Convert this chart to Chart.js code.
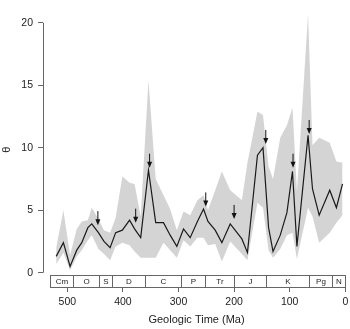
<!DOCTYPE html>
<html>
<head>
<meta charset="utf-8">
<script src="https://cdn.jsdelivr.net/npm/chart.js@4"></script>
<style>
  html, body { margin: 0; padding: 0; background: #fff; }
  #wrap { width: 350px; height: 329px; }
</style>
</head>
<body>
<div id="wrap"><canvas id="theta"></canvas></div>
<script>
// ages (Ma) of each bin, with theta and its confidence band
const ages = [520, 507, 495, 483, 474, 463, 456, 444, 434, 423, 413, 401, 388, 379, 368, 354, 341, 327, 315, 303, 291, 279, 266, 255, 247, 234, 222, 207, 186, 176, 158, 148, 138, 130, 117, 105, 95, 87, 67, 59, 47, 28, 16, 5];
const theta = [1.3, 2.4, 0.5, 1.8, 2.4, 3.6, 3.9, 3.2, 2.5, 2.0, 3.2, 3.4, 4.2, 3.5, 2.8, 8.2, 4.0, 4.0, 3.0, 2.1, 3.5, 2.8, 4.1, 5.1, 4.1, 3.4, 2.4, 3.9, 2.7, 1.6, 9.4, 10.0, 3.6, 1.7, 3.0, 4.8, 8.1, 2.1, 11.0, 6.7, 4.6, 6.6, 5.2, 7.1];
const upper = [2.0, 5.0, 1.4, 3.5, 4.1, 4.2, 5.2, 4.3, 3.4, 3.2, 4.4, 7.7, 7.2, 7.1, 4.5, 15.4, 7.5, 6.2, 5.1, 3.4, 4.9, 4.6, 5.8, 6.2, 5.0, 6.6, 8.1, 6.6, 5.8, 8.8, 12.9, 12.6, 8.5, 7.5, 10.8, 11.8, 13.2, 6.5, 20.7, 10.2, 10.8, 10.4, 8.9, 8.8];
const lower = [0.7, 1.6, 0.2, 1.3, 1.8, 2.6, 3.0, 1.9, 1.5, 1.0, 2.1, 2.4, 2.2, 1.7, 1.2, 1.2, 1.2, 2.4, 1.8, 1.2, 2.6, 2.1, 2.8, 2.8, 2.2, 2.3, 0.9, 2.5, 1.5, 1.0, 5.6, 5.2, 1.8, 1.2, 1.9, 3.0, 3.2, 1.1, 5.2, 4.5, 2.4, 3.2, 4.0, 4.6];

// arrows: age and theta of the tip
const arrowAges = [445, 377, 352, 251, 200, 143, 94, 65];
const arrowTheta = [3.8, 4.0, 8.4, 5.3, 4.3, 10.3, 8.4, 11.1];

// geologic periods
const periodNames = ["Cm", "O", "S", "D", "C", "P", "Tr", "J", "K", "Pg", "N"];
const periodBounds = [532, 489, 443, 420, 360, 296, 252, 201, 143, 66, 24, 0];

const xTicks = [0, 100, 200, 300, 400, 500];
const yTicks = [0, 5, 10, 15, 20];

const pts = (ys) => ages.map((a, i) => ({ x: a, y: ys[i] }));

const FONT = "'Liberation Sans', Arial, sans-serif";

const periodBar = {
  id: "periodBar",
  afterDatasetsDraw(chart) {
    const { ctx, chartArea, scales } = chart;
    const bottom = chartArea.bottom;
    const top = bottom - 13;
    ctx.save();
    ctx.strokeStyle = "#666";
    ctx.lineWidth = 1;
    ctx.font = "8px " + FONT;
    ctx.textAlign = "center";
    ctx.textBaseline = "middle";
    for (let i = 0; i < periodNames.length; i++) {
      const x0 = Math.round(scales.x.getPixelForValue(periodBounds[i])) + 0.5;
      const x1 = Math.round(scales.x.getPixelForValue(periodBounds[i + 1])) + 0.5;
      ctx.fillStyle = "#fff";
      ctx.fillRect(x0, top, x1 - x0, bottom - top);
      ctx.strokeRect(x0, top + 0.5, x1 - x0, bottom - top - 1);
      ctx.fillStyle = "#222";
      ctx.fillText(periodNames[i], (x0 + x1) / 2, (top + bottom) / 2 + 0.5);
    }
    ctx.restore();
  },
};

const arrows = {
  id: "arrows",
  afterDatasetsDraw(chart) {
    const { ctx, scales } = chart;
    ctx.save();
    ctx.strokeStyle = "#111";
    ctx.fillStyle = "#111";
    ctx.lineWidth = 1;
    arrowAges.forEach((a, i) => {
      const x = scales.x.getPixelForValue(a);
      const y = scales.y.getPixelForValue(arrowTheta[i]);
      ctx.beginPath();
      ctx.moveTo(x, y - 14);
      ctx.lineTo(x, y - 5);
      ctx.stroke();
      ctx.beginPath();
      ctx.moveTo(x - 2.5, y - 6);
      ctx.lineTo(x + 2.5, y - 6);
      ctx.lineTo(x, y);
      ctx.closePath();
      ctx.fill();
    });
    ctx.restore();
  },
};

const yAxisLine = {
  id: "yAxisLine",
  afterDraw(chart) {
    const { ctx, chartArea, scales } = chart;
    const x = chartArea.left + 0.5;
    ctx.save();
    ctx.strokeStyle = "#666";
    ctx.lineWidth = 1;
    ctx.beginPath();
    ctx.moveTo(x, scales.y.getPixelForValue(yTicks[0]));
    ctx.lineTo(x, scales.y.getPixelForValue(yTicks[yTicks.length - 1]));
    ctx.stroke();
    ctx.restore();
  },
};

new Chart(document.getElementById("theta"), {
  type: "line",
  data: {
    datasets: [
      {
        // theta line, drawn on top
        data: pts(theta),
        borderColor: "#1a1a1a",
        borderWidth: 1.2,
        fill: false,
        pointRadius: 0,
        order: 0,
      },
      {
        data: pts(upper),
        borderWidth: 0,
        backgroundColor: "#d4d4d4",
        fill: "+1",
        pointRadius: 0,
        order: 1,
      },
      {
        data: pts(lower),
        borderWidth: 0,
        backgroundColor: "#d4d4d4",
        fill: false,
        pointRadius: 0,
        order: 2,
      },
    ],
  },
  options: {
    responsive: true,
    maintainAspectRatio: false,
    animation: false,
    layout: { padding: 0 },
    plugins: { legend: { display: false }, tooltip: { enabled: false } },
    elements: { line: { tension: 0 } },
    scales: {
      x: {
        type: "linear",
        reverse: true,
        min: -8.45,
        max: 543.7,
        afterBuildTicks: (s) => { s.ticks = xTicks.map((v) => ({ value: v })); },
        afterFit: (s) => { s.height = 41; },
        border: { display: false },
        grid: { drawOnChartArea: false, drawTicks: true, tickLength: 4, color: "#666" },
        ticks: { color: "#222", font: { size: 10.5, family: FONT }, padding: 4, maxRotation: 0 },
        title: {
          display: true,
          text: "Geologic Time (Ma)",
          color: "#222",
          font: { size: 11, family: FONT },
          padding: { top: 0, bottom: 2 },
        },
      },
      y: {
        type: "linear",
        min: -1.23,
        max: 20.92,
        afterBuildTicks: (s) => { s.ticks = yTicks.map((v) => ({ value: v })); },
        afterFit: (s) => { s.width = 43; },
        border: { display: false },
        grid: { drawOnChartArea: false, drawTicks: true, tickLength: 5, color: "#666" },
        ticks: { color: "#222", font: { size: 10.5, family: FONT }, padding: 5 },
        title: {
          display: true,
          text: "θ",
          color: "#222",
          font: { size: 11, family: FONT },
          padding: 0,
        },
      },
    },
  },
  plugins: [periodBar, arrows, yAxisLine],
});
</script>
</body>
</html>
